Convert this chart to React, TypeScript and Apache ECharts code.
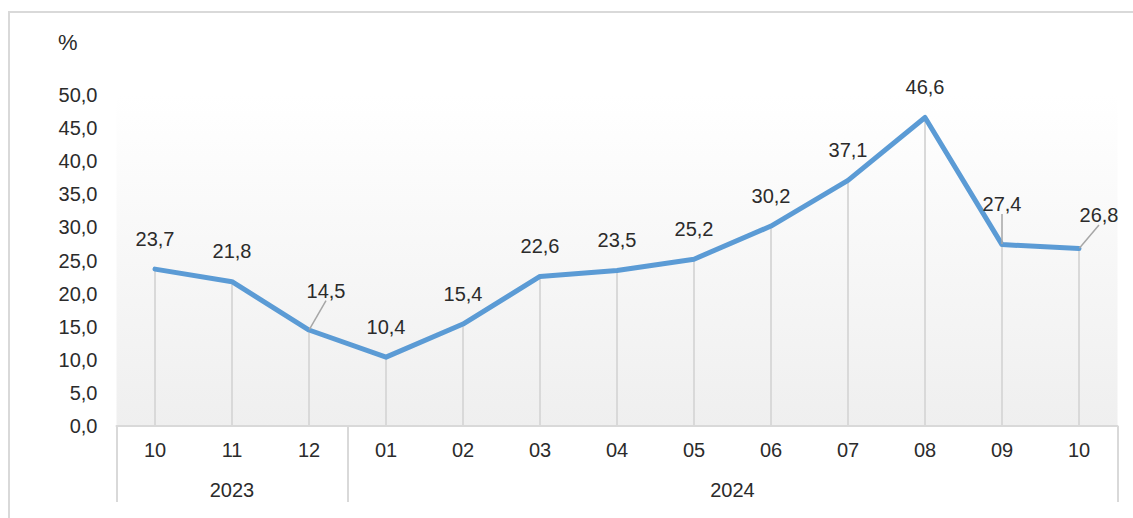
import React, { useEffect, useRef } from 'react';
import * as echarts from 'echarts';

const months = ['10', '11', '12', '01', '02', '03', '04', '05', '06', '07', '08', '09', '10'];
const yearNames = ['2023', '2024'];
const yearSpans = [3, 10];
const values = [23.7, 21.8, 14.5, 10.4, 15.4, 22.6, 23.5, 25.2, 30.2, 37.1, 46.6, 27.4, 26.8];
const yMin = 0;
const yMax = 50;
const yStep = 5;

// labels that are moved away from their point and joined with a leader line
const labelShift: Record<number, [number, number]> = { 2: [17, -9], 11: [0, -10], 12: [20, -3] };

const FONT = 'Liberation Sans, Arial, sans-serif';
const TEXT = '#2b2b2b';
const GRAY = '#d9d9d9';

const fmt = (v: number) => v.toFixed(1).replace('.', ',');

// year axis: half-step slots, boundaries and centres
const slotCount = months.length * 2 + 1;
const slots = Array.from({ length: slotCount }, (_, i) => 's' + i);
const slotLabel: Record<number, string> = {};
const boundaries = new Set<number>([0]);
{
  let c = 0;
  yearNames.forEach((y, i) => {
    slotLabel[2 * c + yearSpans[i]] = y;
    c += yearSpans[i];
    boundaries.add(2 * c);
  });
}

export default function App() {
  const ref = useRef<HTMLDivElement>(null);
  useEffect(() => {
    if (!ref.current) return;
    const chart = echarts.init(ref.current, null, { renderer: 'svg' });
    chart.setOption({
      animation: false,
      textStyle: { fontFamily: FONT },
      grid: {
        left: 116.5,
        right: 15.5,
        top: 95,
        bottom: 92,
        show: true,
        borderWidth: 0,
        backgroundColor: {
          type: 'linear', x: 0, y: 0, x2: 0, y2: 1,
          colorStops: [
            { offset: 0, color: '#ffffff' },
            { offset: 1, color: '#efefef' },
          ],
        },
      },
      xAxis: [
        {
          type: 'category',
          data: months,
          position: 'bottom',
          axisLine: { show: true, lineStyle: { color: GRAY, width: 2 } },
          axisTick: { show: false },
          axisLabel: { color: TEXT, fontSize: 20, fontFamily: FONT, margin: 14, interval: 0 },
          splitLine: { show: false },
        },
        {
          type: 'category',
          data: slots,
          position: 'bottom',
          boundaryGap: false,
          axisLine: { show: false },
          axisTick: {
            show: true,
            interval: (index: number) => boundaries.has(index),
            length: 76,
            lineStyle: { color: GRAY, width: 2 },
          },
          axisLabel: {
            color: TEXT,
            fontSize: 20,
            fontFamily: FONT,
            margin: 54,
            interval: (index: number) => slotLabel[index] !== undefined,
            formatter: (_v: string, index: number) => slotLabel[index] ?? '',
          },
          splitLine: { show: false },
        },
      ],
      yAxis: {
        type: 'value',
        min: yMin,
        max: yMax,
        interval: yStep,
        name: '%',
        nameLocation: 'end',
        nameGap: 42,
        nameTextStyle: { color: TEXT, fontSize: 22, fontFamily: FONT, align: 'right', padding: [0, 39, 0, 0] },
        axisLine: { show: false },
        axisTick: { show: false },
        splitLine: { show: false },
        axisLabel: { color: TEXT, fontSize: 20, fontFamily: FONT, margin: 19, formatter: (v: number) => fmt(v) },
      },
      series: [
        {
          type: 'bar',
          xAxisIndex: 0,
          data: values,
          barWidth: 2,
          itemStyle: { color: GRAY },
          silent: true,
          z: 1,
        },
        {
          type: 'line',
          xAxisIndex: 0,
          data: values.map((v, i) => ({
            value: v,
            labelLine: { show: labelShift[i] !== undefined },
          })),
          symbol: 'circle',
          symbolSize: 1,
          showSymbol: true,
          itemStyle: { color: '#5b9bd5' },
          lineStyle: { color: '#5b9bd5', width: 5, cap: 'round', join: 'round' },
          z: 3,
          label: {
            show: true,
            position: 'top',
            distance: 20,
            color: TEXT,
            fontSize: 20,
            fontFamily: FONT,
            formatter: (p: any) => fmt(p.value),
          },
          labelLine: { lineStyle: { color: '#a6a6a6', width: 1.5 } },
          labelLayout: (p: any) => {
            const s = labelShift[p.dataIndex];
            return s ? { dx: s[0], dy: s[1] } : {};
          },
        },
      ],
    });
    return () => chart.dispose();
  }, []);
  return (
    <>
      <div
        style={{
          position: 'fixed', left: 8, top: 11, width: 1200, height: 600,
          border: '2px solid #d9d9d9', boxSizing: 'border-box', background: '#fff',
        }}
      />
      <div ref={ref} style={{ position: 'fixed', left: 0, top: 0, width: 1133, height: 518 }} />
    </>
  );
}
